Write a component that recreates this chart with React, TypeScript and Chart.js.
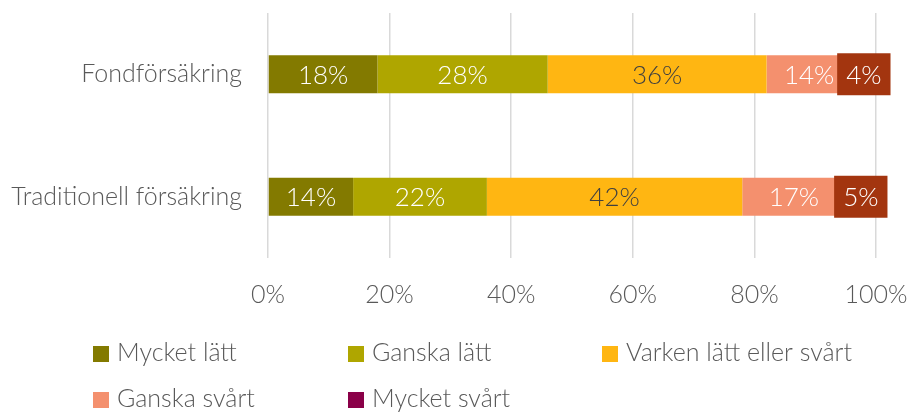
import React, { useEffect, useRef } from "react";
import { Chart, registerables } from "chart.js";

Chart.register(...registerables);

const categories = ["Fondförsäkring", "Traditionell försäkring"];
const seriesNames = ["Mycket lätt", "Ganska lätt", "Varken lätt eller svårt", "Ganska svårt", "Mycket svårt"];
const mycketLatt = [18, 14];
const ganskaLatt = [28, 22];
const varkenLattEllerSvart = [36, 42];
const ganskaSvart = [14, 17];
const mycketSvart = [4, 5];
const xTickValues = [0, 20, 40, 60, 80, 100];

const FONT = "Lato";
const TEXT = "#595959";
const barColors = ["#837A00", "#AFA600", "#FFB612", "#F4906E", "#8A0048"];
const legendColors = ["#837A00", "#AFA600", "#FFB612", "#F4906E", "#8A0048"];
const labelColors = ["#FFFFFF", "#FFFFFF", "#404040", "#FFFFFF", "#FFFFFF"];
const lastBoxColor = "#A3350F";

const segLabels = {
  id: "segLabels",
  afterDatasetsDraw(chart: any) {
    const ctx = chart.ctx;
    ctx.save();
    ctx.font = `300 26px ${FONT}`;
    ctx.textAlign = "center";
    ctx.textBaseline = "middle";
    const last = chart.data.datasets.length - 1;
    chart.data.datasets.forEach((ds: any, di: number) => {
      const meta = chart.getDatasetMeta(di);
      meta.data.forEach((el: any, i: number) => {
        const p = el.getProps(["x", "y", "base", "height"], true);
        const cx = (p.x + p.base) / 2;
        const text = ds.data[i] + "%";
        if (di === last) {
          const w = ctx.measureText(text).width + 18;
          ctx.fillStyle = lastBoxColor;
          ctx.fillRect(cx - w / 2, p.y - p.height / 2 - 2, w, p.height + 4);
        }
        ctx.fillStyle = labelColors[di];
        ctx.fillText(text, cx, p.y + 1);
      });
    });
    ctx.restore();
  },
};

const gridLegend = {
  id: "gridLegend",
  afterDraw(chart: any) {
    const ctx = chart.ctx;
    const cols = [93, 348, 602];
    const rows = [352, 398];
    ctx.save();
    ctx.font = `300 25px ${FONT}`;
    ctx.textAlign = "left";
    ctx.textBaseline = "middle";
    seriesNames.forEach((name, i) => {
      const x = cols[i % 3];
      const y = rows[Math.floor(i / 3)];
      ctx.fillStyle = legendColors[i];
      ctx.fillRect(x, y - 6, 16, 16);
      ctx.fillStyle = TEXT;
      ctx.fillText(name, x + 24, y + 1);
    });
    ctx.restore();
  },
};

export default function App() {
  const ref = useRef<HTMLCanvasElement | null>(null);
  useEffect(() => {
    if (!ref.current) return;
    const series = [mycketLatt, ganskaLatt, varkenLattEllerSvart, ganskaSvart, mycketSvart];
    const chart = new Chart(ref.current, {
      type: "bar",
      data: {
        labels: categories,
        datasets: series.map((d, i) => ({
          label: seriesNames[i],
          data: d,
          backgroundColor: barColors[i],
          borderWidth: 0,
          barPercentage: 0.31,
          categoryPercentage: 1,
        })),
      },
      options: {
        indexAxis: "y",
        animation: false,
        responsive: true,
        maintainAspectRatio: false,
        layout: { padding: { top: 13, right: 36, left: 0, bottom: 0 } },
        plugins: { legend: { display: false }, tooltip: { enabled: false } },
        scales: {
          x: {
            stacked: true,
            min: 0,
            max: 100,
            afterBuildTicks: (scale: any) => {
              scale.ticks = xTickValues.map((v) => ({ value: v }));
            },
            afterFit: (scale: any) => {
              scale.height = 154;
              scale.paddingLeft = 0;
              scale.paddingRight = 0;
            },
            border: { display: false },
            grid: { color: "#D9D9D9", lineWidth: 1.5, drawTicks: false },
            ticks: {
              padding: 22,
              color: TEXT,
              font: { family: FONT, size: 25, weight: "300" as any },
              callback: (v: any) => v + "%",
            },
          },
          y: {
            stacked: true,
            afterFit: (scale: any) => {
              scale.width = 268;
              scale.paddingTop = 0;
              scale.paddingBottom = 0;
            },
            border: { display: false },
            grid: { display: false, drawTicks: false },
            ticks: {
              padding: 26,
              color: TEXT,
              font: { family: FONT, size: 25, weight: "300" as any },
            },
          },
        },
      },
      plugins: [segLabels, gridLegend],
    });
    return () => chart.destroy();
  }, []);
  return (
    <div style={{ position: "fixed", left: 0, top: 0, width: 912, height: 412, background: "#fff" }}>
      <canvas ref={ref} />
    </div>
  );
}
